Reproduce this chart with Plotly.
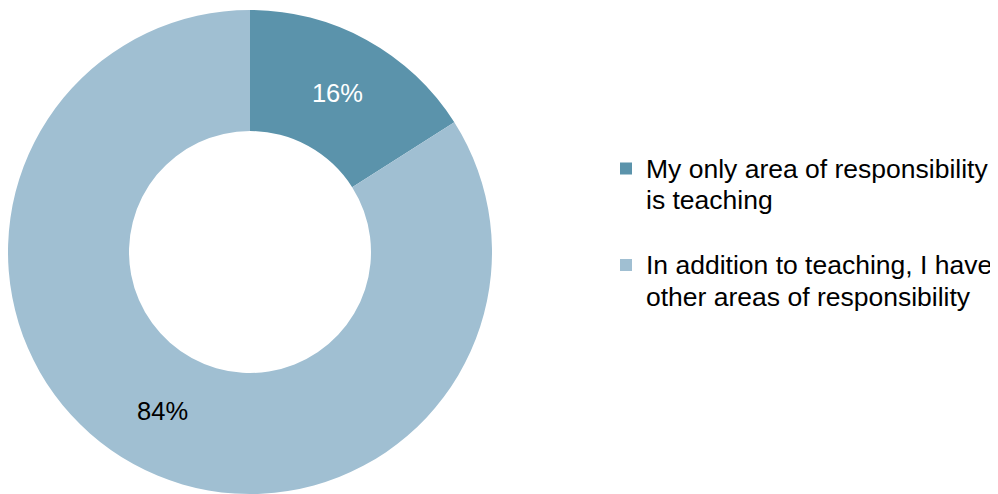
import plotly.graph_objects as go

labels = [
    "My only area of responsibility<br>is teaching",
    "In addition to teaching, I have<br>other areas of responsibility",
]
values = [16, 84]
colors = ["#5B93AB", "#A0BFD2"]
text_colors = ["#FFFFFF", "#000000"]

W, H = 998, 494
FONT = "Liberation Sans, Arial, sans-serif"

legend_labels = ['<span style="font-size:26.5px">' + l.replace("<br>", '</span><br><span style="font-size:26.5px">') + "</span><br> " for l in labels]

fig = go.Figure(
    go.Pie(
        labels=legend_labels,
        values=values,
        hole=0.5,
        sort=False,
        direction="clockwise",
        rotation=0,
        marker=dict(colors=colors, line=dict(width=0)),
        textinfo="percent",
        textposition="inside",
        insidetextorientation="horizontal",
        textfont=dict(family=FONT, size=25.5, color=text_colors),
        domain=dict(x=[0, 484 / W], y=[0, 1]),
        hoverinfo="label+percent",
    )
)

fig.update_layout(
    width=W,
    height=H,
    margin=dict(l=0, r=0, t=2, b=8),
    paper_bgcolor="white",
    plot_bgcolor="white",
    font=dict(family=FONT, color="#000000"),
    showlegend=True,
    legend=dict(
        x=598 / W,
        xanchor="left",
        y=1 - 136.4 / 484,
        yanchor="top",
        font=dict(family=FONT, size=24, color="#000000"),
        valign="top",
        bgcolor="rgba(0,0,0,0)",
        borderwidth=0,
    ),
)

fig.write_html("out.html")
